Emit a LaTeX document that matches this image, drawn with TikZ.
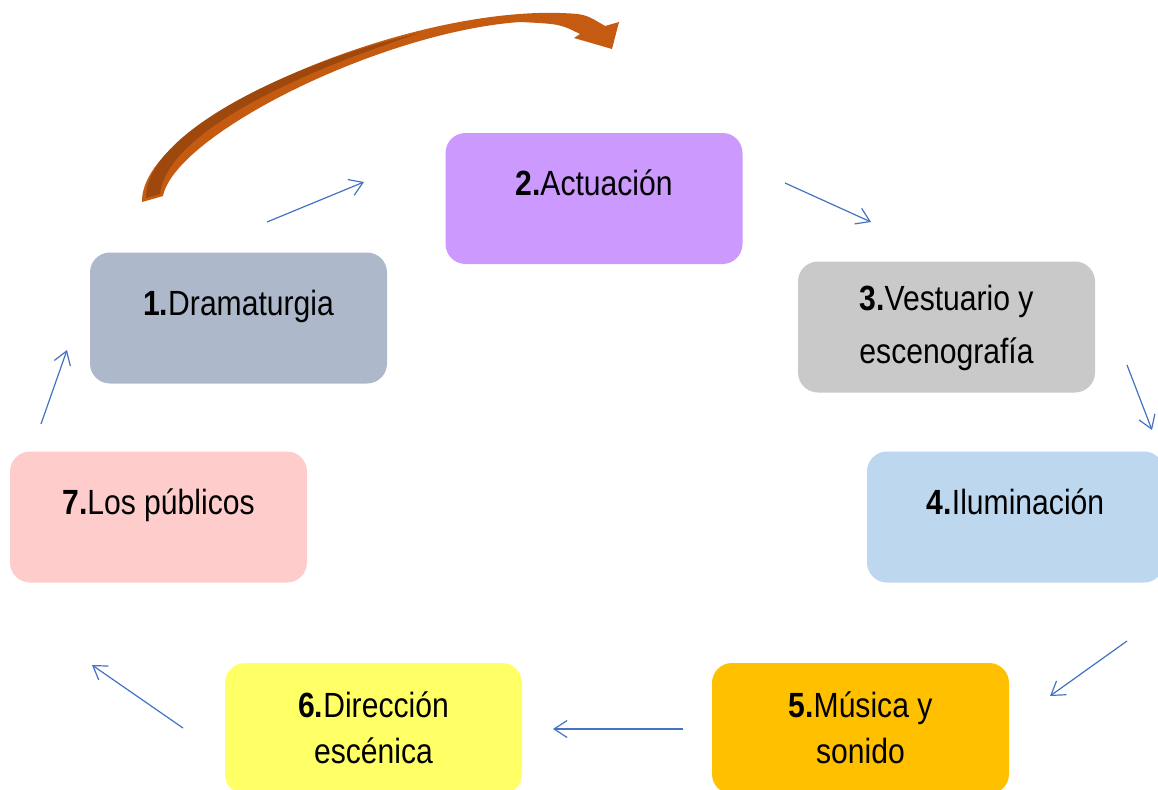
\documentclass[tikz,border=0pt]{standalone}
\usepackage{fontspec}
\setmainfont{Liberation Sans}[FakeStretch=0.86]
\usetikzlibrary{arrows.meta}
\definecolor{c1}{HTML}{ADB9CA}
\definecolor{c2}{HTML}{CC99FF}
\definecolor{c3}{HTML}{C9C9C9}
\definecolor{c4}{HTML}{BDD7EE}
\definecolor{c5}{HTML}{FFC000}
\definecolor{c6}{HTML}{FFFF66}
\definecolor{c7}{HTML}{FFCCCC}
\definecolor{arrblue}{HTML}{4472C4}
\definecolor{arrorange}{HTML}{C55A11}
\definecolor{arrdark}{HTML}{9E480E}
\begin{document}
\begin{tikzpicture}[x=1pt,y=-1pt,
  stage/.style={rectangle, rounded corners=20pt, minimum width=297pt, minimum height=131pt,
    inner sep=0pt, align=center, text=black},
  oneline/.style={font=\fontsize{35}{42}\selectfont, text height=25pt, text depth=31pt},
  twoline/.style={font=\fontsize{35}{#1}\selectfont},
  flow/.style={draw=arrblue, line width=1.2pt, -{Straight Barb[length=13pt,width=17pt,line width=1.2pt]}}]
\clip (0,0) rectangle (1158,789);
\fill[white] (0,0) rectangle (1158,789);
\node[stage, oneline, fill=c1] (n1) at (238.5,318) {\textbf{1.}Dramaturgia};
\node[stage, oneline, fill=c2] (n2) at (594,198.5) {\textbf{2.}Actuación};
\node[stage, twoline=53pt, text height=78pt, text depth=6pt, fill=c3] (n3) at (946.5,327) {\textbf{3.}Vestuario y\\escenografía};
\node[stage, oneline, fill=c4] (n4) at (1015.5,517) {\textbf{4.}Iluminación};
\node[stage, twoline=46pt, text height=71pt, text depth=2pt, fill=c5] (n5) at (860.5,728.5) {\textbf{5.}Música y\\sonido};
\node[stage, twoline=46pt, text height=71pt, text depth=2pt, fill=c6] (n6) at (373.5,728.5) {\textbf{6.}Dirección\\escénica};
\node[stage, oneline, fill=c7] (n7) at (158.5,517) {\textbf{7.}Los públicos};
% connector ends
\coordinate (a1s) at (267,222); \coordinate (a1e) at (364,182);
\coordinate (a2s) at (785,183); \coordinate (a2e) at (871,222);
\coordinate (a3s) at (1127,365); \coordinate (a3e) at (1152,430);
\coordinate (a4s) at (1127,641); \coordinate (a4e) at (1050,696);
\coordinate (a5s) at (683,729); \coordinate (a5e) at (553,729);
\coordinate (a6s) at (183,728); \coordinate (a6e) at (92,665);
\coordinate (a7s) at (41,424); \coordinate (a7e) at (67,350);
\draw[flow] (a1s) -- (a1e);
\draw[flow] (a2s) -- (a2e);
\draw[flow] (a3s) -- (a3e);
\draw[flow] (a4s) -- (a4e);
\draw[flow] (a5s) -- (a5e);
\draw[flow] (a6s) -- (a6e);
\draw[flow] (a7s) -- (a7e);
% curved orange arrow
\fill[arrorange] (142,202) .. controls (140,120) and (400,8) .. (560,13)
  .. controls (585,14) .. (605,26) -- (619,22) -- (612,49) -- (574,38) -- (580,34)
  .. controls (560,24) .. (520,22)
  .. controls (380,32) and (175,135) .. (163,196) -- cycle;
\fill[arrdark] (146,198) .. controls (146,130) and (300,60) .. (420,33)
  .. controls (300,72) and (167,132) .. (160,194) -- cycle;
\end{tikzpicture}
\end{document}
